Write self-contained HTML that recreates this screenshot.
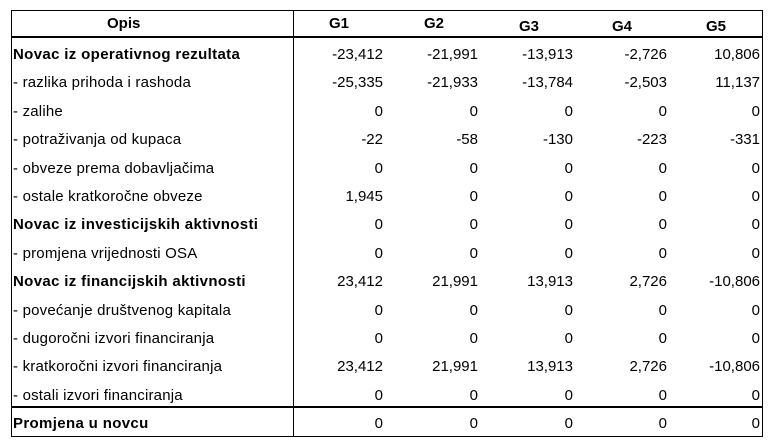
<!DOCTYPE html>
<html>
<head>
<meta charset="utf-8">
<style>
html,body{margin:0;padding:0;background:#fff;}
body{width:776px;height:441px;position:relative;overflow:hidden;font-family:"Liberation Sans",Arial,sans-serif;font-size:15px;color:#000;}
.box{position:absolute;left:11px;top:10px;width:752px;height:427px;border:1px solid #000;box-sizing:border-box;}
.hl{position:absolute;left:11px;width:752px;height:2px;background:#000;}
.vl{position:absolute;left:293px;top:10px;width:1px;height:427px;background:#000;}
.t{position:absolute;height:28px;line-height:28px;white-space:nowrap;}
.lb{left:13px;letter-spacing:0.2px;}
.b{font-weight:bold;letter-spacing:0.35px;}
.n{letter-spacing:0;text-align:right;}
.h{font-weight:bold;letter-spacing:0;}
.c1{right:393px;}
.c2{right:298px;}
.c3{right:203px;}
.c4{right:109px;}
.c5{right:16px;}
</style>
</head>
<body>
<div class="box"></div>
<div class="hl" style="top:36px"></div>
<div class="hl" style="top:406px"></div>
<div class="vl"></div>

<div class="t h" style="top:10px;left:107px">Opis</div>
<div class="t h" style="top:10px;left:329px">G1</div>
<div class="t h" style="top:9.6px;left:424px">G2</div>
<div class="t h" style="top:13px;left:519px">G3</div>
<div class="t h" style="top:13px;left:612px">G4</div>
<div class="t h" style="top:13px;left:706px">G5</div>

<!-- row 0 -->
<div class="t lb b" style="top:41px">Novac iz operativnog rezultata</div>
<div class="t n c1" style="top:41px">-23,412</div>
<div class="t n c2" style="top:41px">-21,991</div>
<div class="t n c3" style="top:41px">-13,913</div>
<div class="t n c4" style="top:41px">-2,726</div>
<div class="t n c5" style="top:41px">10,806</div>
<!-- row 1 -->
<div class="t lb" style="top:69.4px">- razlika prihoda i rashoda</div>
<div class="t n c1" style="top:69.4px">-25,335</div>
<div class="t n c2" style="top:69.4px">-21,933</div>
<div class="t n c3" style="top:69.4px">-13,784</div>
<div class="t n c4" style="top:69.4px">-2,503</div>
<div class="t n c5" style="top:69.4px">11,137</div>
<!-- row 2 -->
<div class="t lb" style="top:97.8px">- zalihe</div>
<div class="t n c1" style="top:97.8px">0</div>
<div class="t n c2" style="top:97.8px">0</div>
<div class="t n c3" style="top:97.8px">0</div>
<div class="t n c4" style="top:97.8px">0</div>
<div class="t n c5" style="top:97.8px">0</div>
<!-- row 3 -->
<div class="t lb" style="top:126.2px">- potraživanja od kupaca</div>
<div class="t n c1" style="top:126.2px">-22</div>
<div class="t n c2" style="top:126.2px">-58</div>
<div class="t n c3" style="top:126.2px">-130</div>
<div class="t n c4" style="top:126.2px">-223</div>
<div class="t n c5" style="top:126.2px">-331</div>
<!-- row 4 -->
<div class="t lb" style="top:154.6px">- obveze prema dobavljačima</div>
<div class="t n c1" style="top:154.6px">0</div>
<div class="t n c2" style="top:154.6px">0</div>
<div class="t n c3" style="top:154.6px">0</div>
<div class="t n c4" style="top:154.6px">0</div>
<div class="t n c5" style="top:154.6px">0</div>
<!-- row 5 -->
<div class="t lb" style="top:183px">- ostale kratkoročne obveze</div>
<div class="t n c1" style="top:183px">1,945</div>
<div class="t n c2" style="top:183px">0</div>
<div class="t n c3" style="top:183px">0</div>
<div class="t n c4" style="top:183px">0</div>
<div class="t n c5" style="top:183px">0</div>
<!-- row 6 -->
<div class="t lb b" style="top:211.4px">Novac iz investicijskih aktivnosti</div>
<div class="t n c1" style="top:211.4px">0</div>
<div class="t n c2" style="top:211.4px">0</div>
<div class="t n c3" style="top:211.4px">0</div>
<div class="t n c4" style="top:211.4px">0</div>
<div class="t n c5" style="top:211.4px">0</div>
<!-- row 7 -->
<div class="t lb" style="top:239.8px">- promjena vrijednosti OSA</div>
<div class="t n c1" style="top:239.8px">0</div>
<div class="t n c2" style="top:239.8px">0</div>
<div class="t n c3" style="top:239.8px">0</div>
<div class="t n c4" style="top:239.8px">0</div>
<div class="t n c5" style="top:239.8px">0</div>
<!-- row 8 -->
<div class="t lb b" style="top:268.2px">Novac iz financijskih aktivnosti</div>
<div class="t n c1" style="top:268.2px">23,412</div>
<div class="t n c2" style="top:268.2px">21,991</div>
<div class="t n c3" style="top:268.2px">13,913</div>
<div class="t n c4" style="top:268.2px">2,726</div>
<div class="t n c5" style="top:268.2px">-10,806</div>
<!-- row 9 -->
<div class="t lb" style="top:296.6px">- povećanje društvenog kapitala</div>
<div class="t n c1" style="top:296.6px">0</div>
<div class="t n c2" style="top:296.6px">0</div>
<div class="t n c3" style="top:296.6px">0</div>
<div class="t n c4" style="top:296.6px">0</div>
<div class="t n c5" style="top:296.6px">0</div>
<!-- row 10 -->
<div class="t lb" style="top:325px">- dugoročni izvori financiranja</div>
<div class="t n c1" style="top:325px">0</div>
<div class="t n c2" style="top:325px">0</div>
<div class="t n c3" style="top:325px">0</div>
<div class="t n c4" style="top:325px">0</div>
<div class="t n c5" style="top:325px">0</div>
<!-- row 11 -->
<div class="t lb" style="top:353.4px">- kratkoročni izvori financiranja</div>
<div class="t n c1" style="top:353.4px">23,412</div>
<div class="t n c2" style="top:353.4px">21,991</div>
<div class="t n c3" style="top:353.4px">13,913</div>
<div class="t n c4" style="top:353.4px">2,726</div>
<div class="t n c5" style="top:353.4px">-10,806</div>
<!-- row 12 -->
<div class="t lb" style="top:381.8px">- ostali izvori financiranja</div>
<div class="t n c1" style="top:381.8px">0</div>
<div class="t n c2" style="top:381.8px">0</div>
<div class="t n c3" style="top:381.8px">0</div>
<div class="t n c4" style="top:381.8px">0</div>
<div class="t n c5" style="top:381.8px">0</div>
<!-- row 13 -->
<div class="t lb b" style="top:410px">Promjena u novcu</div>
<div class="t n c1" style="top:410px">0</div>
<div class="t n c2" style="top:410px">0</div>
<div class="t n c3" style="top:410px">0</div>
<div class="t n c4" style="top:410px">0</div>
<div class="t n c5" style="top:410px">0</div>
</body>
</html>
